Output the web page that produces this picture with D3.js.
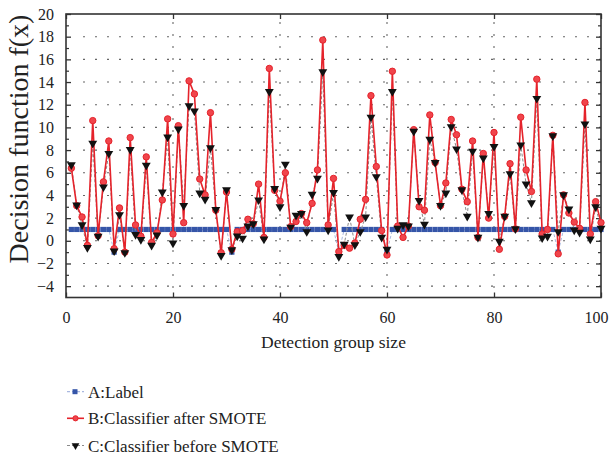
<!DOCTYPE html>
<html>
<head>
<meta charset="utf-8">
<script src="https://cdn.jsdelivr.net/npm/d3@7"></script>
<style>
  html, body { margin: 0; padding: 0; background: #fff; }
  svg { display: block; font-family: "Liberation Serif", "DejaVu Serif", serif; }
</style>
</head>
<body>
<svg id="chart" width="610" height="460"></svg>
<script>
// Detection groups 1..100
const groups = d3.range(1, 101);

// A: true label of each group
const labelA = [
  1, 1, 1, 1, 1, 1, 1, 1, -1, 1,
  1, 1, 1, 1, 1, 1, 1, 1, 1, 1,
  1, 1, 1, 1, 1, 1, 1, 1, 1, 1,
  -1, 1, 1, 1, 1, 1, 1, 1, 1, 1,
  1, 1, 1, 1, 1, 1, 1, 1, 1, 1,
  -1, 1, 1, 1, 1, 1, 1, 1, 1, -1,
  1, 1, 1, 1, 1, 1, 1, 1, 1, 1,
  1, 1, 1, 1, 1, 1, 1, 1, 1, 1,
  1, 1, 1, 1, 1, 1, 1, 1, 1, 1,
  1, -1, 1, 1, 1, 1, 1, 1, 1, 1
];

// B: decision function of the classifier trained after SMOTE
const afterSMOTE = [
  6.4, 3.1, 2.1, -0.4, 10.6, 0.45, 5.2, 8.8, -0.7, 2.9,
  -1.0, 9.1, 1.4, 0.4, 7.4, -0.15, 0.7, 3.6, 10.75, 0.6,
  10.15, 1.6, 14.1, 12.95, 5.45, 4.05, 11.3, 2.7, -1.05, 4.3,
  -0.75, 0.8, 0.9, 1.9, 1.5, 5.0, 0.3, 15.2, 4.45, 3.5,
  6.0, 1.25, 1.7, 2.4, 1.6, 3.3, 6.25, 17.7, 1.4, 5.5,
  -0.95, -0.4, -0.65, -0.2, 1.9, 3.65, 12.8, 6.55, 0.9, -1.25,
  14.95, 1.3, 0.3, 1.3, 9.8, 3.0, 2.7, 11.1, 6.9, 3.1,
  5.1, 10.7, 9.35, 4.55, 3.45, 8.8, 0.3, 7.7, 2.0, 9.55,
  -0.75, 2.15, 6.8, 1.05, 10.9, 6.25, 4.35, 14.25, 0.6, 1.0,
  9.3, -1.15, 4.05, 2.45, 1.65, 1.1, 12.2, 0.6, 3.45, 1.6
];

// C: decision function of the classifier trained before SMOTE
const beforeSMOTE = [
  6.7, 3.15, 1.4, -0.6, 8.6, 0.4, 4.75, 7.7, -0.9, 2.3,
  -1.05, 8.05, 0.55, 0.1, 6.65, -0.4, 0.5, 4.3, 9.15, -0.2,
  9.85, 3.1, 11.9, 11.45, 4.2, 3.65, 8.2, 2.75, -1.3, 4.5,
  -0.8, 0.42, 0.23, 1.3, 1.5, 3.6, 0.15, 13.15, 4.6, 3.0,
  6.75, 1.2, 2.25, 2.4, 0.8, 4.1, 5.5, 14.9, 0.95, 4.25,
  -1.4, -0.3, 2.1, -0.35, 0.8, 2.1, 10.9, 5.65, 0.3, -0.75,
  13.15, 1.1, 1.4, 1.3, 9.65, 3.55, 1.45, 8.95, 6.9, 3.1,
  4.2, 10.05, 8.1, 4.5, 2.15, 7.9, 0.3, 7.3, 2.4, 8.3,
  -0.05, 2.15, 5.9, 1.05, 8.45, 5.0, 3.35, 12.55, 0.25, 0.4,
  9.25, 0.8, 4.05, 2.8, 0.95, 0.75, 10.3, 0.15, 3.0, 1.1
];

const xTicks = [0, 20, 40, 60, 80, 100];
const yTicks = [-4, -2, 0, 2, 4, 6, 8, 10, 12, 14, 16, 18, 20];
const yMinorTicks = [-3, -1, 1, 3, 5, 7, 9, 11, 13, 15, 17, 19];
const legendLabels = ["A:Label", "B:Classifier after SMOTE", "C:Classifier before SMOTE"];

const svg = d3.select("#chart");
const plot = { left: 66, right: 601, top: 14, bottom: 297.5 };

const x = d3.scaleLinear().domain([0, 100]).range([plot.left, plot.right]);
const y = d3.scaleLinear().domain([-5, 20]).range([plot.bottom, plot.top]);

const axisColor = "#333";
const red = "#e5232b";
const blue = "#3555a8";

// dotted grid
const grid = svg.append("g");
grid.selectAll("line.h").data(yTicks.filter(v => v > -5 && v < 20)).join("line")
  .attr("x1", plot.left + 17).attr("x2", plot.right)
  .attr("y1", d => y(d)).attr("y2", d => y(d))
  .attr("stroke", "#666").attr("stroke-width", 1.1)
  .attr("stroke-dasharray", "2,10");
grid.selectAll("line.v").data([20, 40, 60, 80]).join("line")
  .attr("x1", d => x(d)).attr("x2", d => x(d))
  .attr("y1", plot.top + 8).attr("y2", plot.bottom)
  .attr("stroke", "#666").attr("stroke-width", 1.1)
  .attr("stroke-dasharray", "2,10");

// axes: ticks point inwards on all four sides
const tickFmt = d3.format("d");
svg.append("g").attr("transform", `translate(0,${plot.bottom})`)
  .call(d3.axisBottom(x).tickValues(xTicks).tickSize(-5).tickPadding(14).tickFormat(tickFmt))
  .call(g => g.select(".domain").remove())
  .call(g => g.selectAll("line").attr("stroke", axisColor).attr("stroke-width", 1.3))
  .call(g => g.selectAll("text").attr("font-size", 16).attr("fill", "#222")
    .attr("font-family", "Liberation Serif"))
  // keep the last label inside the page edge
  .call(g => g.selectAll("text").filter(d => d === 100).attr("text-anchor", "end").attr("dx", 7));
svg.append("g").attr("transform", `translate(0,${plot.top})`)
  .call(d3.axisTop(x).tickValues(xTicks).tickSize(-5).tickFormat(""))
  .call(g => g.select(".domain").remove())
  .call(g => g.selectAll("line").attr("stroke", axisColor).attr("stroke-width", 1.3));
svg.append("g").attr("transform", `translate(${plot.left},0)`)
  .call(d3.axisLeft(y).tickValues(yTicks).tickSize(-5).tickPadding(12).tickFormat(tickFmt))
  .call(g => g.select(".domain").remove())
  .call(g => g.selectAll("line").attr("stroke", axisColor).attr("stroke-width", 1.3))
  .call(g => g.selectAll("text").attr("font-size", 16).attr("fill", "#222")
    .attr("font-family", "Liberation Serif"));
svg.append("g").attr("transform", `translate(${plot.left},0)`)
  .call(d3.axisLeft(y).tickValues(yMinorTicks).tickSize(-3).tickFormat(""))
  .call(g => g.select(".domain").remove())
  .call(g => g.selectAll("line").attr("stroke", axisColor).attr("stroke-width", 1.2));
svg.append("g").attr("transform", `translate(${plot.right},0)`)
  .call(d3.axisRight(y).tickValues(yTicks).tickSize(-5).tickFormat(""))
  .call(g => g.select(".domain").remove())
  .call(g => g.selectAll("line").attr("stroke", axisColor).attr("stroke-width", 1.3));
svg.append("g").attr("transform", `translate(${plot.right},0)`)
  .call(d3.axisRight(y).tickValues(yMinorTicks).tickSize(-3).tickFormat(""))
  .call(g => g.select(".domain").remove())
  .call(g => g.selectAll("line").attr("stroke", axisColor).attr("stroke-width", 1.2));

// frame
svg.append("rect")
  .attr("x", plot.left).attr("y", plot.top)
  .attr("width", plot.right - plot.left).attr("height", plot.bottom - plot.top)
  .attr("fill", "none").attr("stroke", axisColor).attr("stroke-width", 1.6);

// series
const line = d3.line().x((d, i) => x(groups[i])).y(d => y(d));
const triangle = d3.symbol().type(d3.symbolTriangle).size(34);

// A: label
svg.append("path").datum(labelA).attr("d", line)
  .attr("fill", "none").attr("stroke", "#a9b8e0").attr("stroke-width", 1)
  .attr("stroke-dasharray", "3,2");
svg.append("g").selectAll("rect").data(labelA).join("rect")
  .attr("x", (d, i) => x(groups[i]) - 2.6).attr("y", d => y(d) - 2.6)
  .attr("width", 5.2).attr("height", 5.2).attr("fill", blue);

// C connecting line (gray dashed), drawn below B
svg.append("path").datum(beforeSMOTE).attr("d", line)
  .attr("fill", "none").attr("stroke", "#8a8a8a").attr("stroke-width", 1)
  .attr("stroke-dasharray", "3,2");

// B: after SMOTE
svg.append("path").datum(afterSMOTE).attr("d", line)
  .attr("fill", "none").attr("stroke", red).attr("stroke-width", 1.6);
svg.append("g").selectAll("circle").data(afterSMOTE).join("circle")
  .attr("cx", (d, i) => x(groups[i])).attr("cy", d => y(d)).attr("r", 3.2)
  .attr("fill", "#f0454c").attr("stroke", red).attr("stroke-width", 1);

// C markers
svg.append("g").selectAll("path").data(beforeSMOTE).join("path")
  .attr("d", triangle)
  .attr("transform", (d, i) => `translate(${x(groups[i])},${y(d)}) rotate(180)`)
  .attr("fill", "#111");

// axis titles
svg.append("text")
  .attr("x", (plot.left + plot.right) / 2).attr("y", 348)
  .attr("text-anchor", "middle").attr("font-size", 17.5).attr("fill", "#222")
  .text("Detection group size");
svg.append("text")
  .attr("transform", "translate(28,139) rotate(-90)")
  .attr("text-anchor", "middle").attr("font-size", 28).attr("fill", "#222")
  .text("Decision function f(x)");

// legend
const legend = svg.append("g");
const rowsY = [391.7, 418.3, 445.5];
legendLabels.forEach((label, i) => {
  const g = legend.append("g").attr("transform", `translate(0,${rowsY[i]})`);
  if (i === 0) {
    g.append("line").attr("x1", 67).attr("x2", 84).attr("stroke", "#a9b8e0")
      .attr("stroke-width", 1.2).attr("stroke-dasharray", "3,2");
    g.append("rect").attr("x", 72.5).attr("y", -2.5).attr("width", 5).attr("height", 5).attr("fill", blue);
  } else if (i === 1) {
    g.append("line").attr("x1", 67).attr("x2", 84).attr("stroke", red).attr("stroke-width", 1.6);
    g.append("circle").attr("cx", 75.5).attr("r", 2.6).attr("fill", "#f0454c").attr("stroke", red);
  } else {
    g.append("line").attr("x1", 67).attr("x2", 84).attr("stroke", "#8a8a8a")
      .attr("stroke-width", 1.1).attr("stroke-dasharray", "3,2");
    g.append("path").attr("d", d3.symbol().type(d3.symbolTriangle).size(26))
      .attr("transform", "translate(75.5,0) rotate(180)").attr("fill", "#111");
  }
  g.append("text").attr("x", 88).attr("y", 6).attr("font-size", 17).attr("fill", "#222").text(label);
});
</script>
</body>
</html>
